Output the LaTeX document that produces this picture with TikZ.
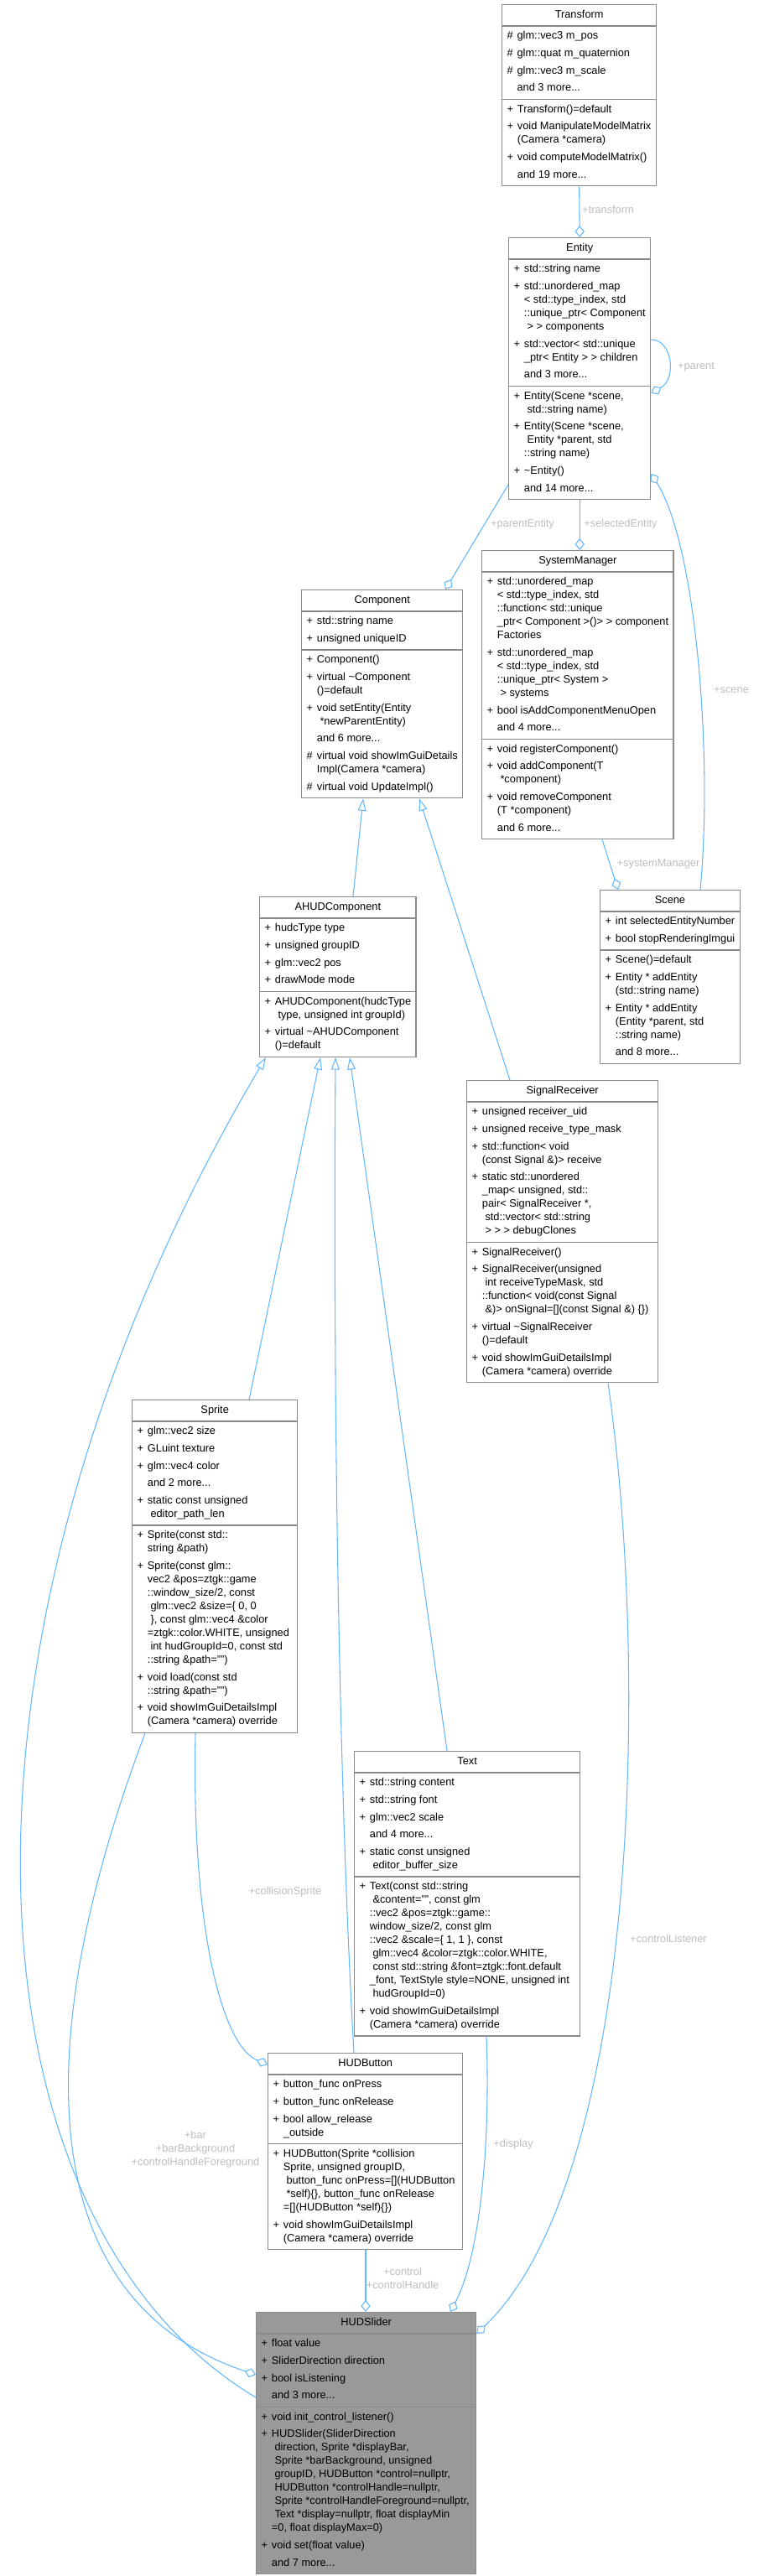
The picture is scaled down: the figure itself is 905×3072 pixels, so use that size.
\documentclass[tikz,border=0pt]{standalone}
\usepackage{fontspec}
\setmainfont{Liberation Sans}
\usetikzlibrary{shapes.multipart,arrows.meta,calc}
\definecolor{edgeblue}{HTML}{63B8FF}
\definecolor{labelgrey}{HTML}{BEBEBE}
\definecolor{framegrey}{HTML}{8A8A8A}
\definecolor{focusgrey}{HTML}{999999}
\newcommand{\memberlist}[1]{\begin{tabular}{@{}l@{\hspace{3.6pt}}l@{}}#1\end{tabular}}
\newcommand{\nextitem}{\\[3.5pt]}

\begin{document}
\begin{tikzpicture}[
    x=0.75pt, y=-0.75pt,
    every node/.style={font=\fontsize{9.6}{12}\selectfont},
    cls/.style={rectangle split, rectangle split parts=3, rectangle split part align={center,left,left}, draw=framegrey, line width=1pt, fill=white, inner xsep=4.5pt, inner ysep=3pt, anchor=north west},
    focus/.style={cls, fill=focusgrey},
    lbl/.style={text=labelgrey, inner sep=0pt, align=center},
    uses/.style={draw=edgeblue, line width=0.8pt, -{Diamond[open,length=10.5pt,width=8.5pt]}},
    inherits/.style={draw=edgeblue, line width=0.8pt, -{Triangle[open,length=11pt,width=7.5pt]}}
]
\path[use as bounding box, fill=white] (0,0) rectangle (905,3072);

% classes
\node[cls, minimum width=138pt] (transform) at (598,5)
    {\strut Transform
    \nodepart{two}\memberlist{\# & glm::vec3 m\_pos\nextitem
        \# & glm::quat m\_quaternion\nextitem
        \# & glm::vec3 m\_scale\nextitem
        & and 3 more...}
    \nodepart{three}\memberlist{+ & Transform()=default\nextitem
        + & void ManipulateModelMatrix\\ & (Camera *camera)\nextitem
        + & void computeModelMatrix()\nextitem
        & and 19 more...}};

\node[cls, minimum width=126.8pt] (entity) at (606,283)
    {\strut Entity
    \nodepart{two}\memberlist{+ & std::string name\nextitem
        + & std::unordered\_map\\ & < std::type\_index, std\\ & ::unique\_ptr< Component\\ & \ > > components\nextitem
        + & std::vector< std::unique\\ & \_ptr< Entity > > children\nextitem
        & and 3 more...}
    \nodepart{three}\memberlist{+ & Entity(Scene *scene,\\ & \ std::string name)\nextitem
        + & Entity(Scene *scene,\\ & \ Entity *parent, std\\ & ::string name)\nextitem
        + & \textasciitilde Entity()\nextitem
        & and 14 more...}};

\node[cls, minimum width=142.5pt] (component) at (359,703)
    {\strut Component
    \nodepart{two}\memberlist{+ & std::string name\nextitem
        + & unsigned uniqueID}
    \nodepart{three}\memberlist{+ & Component()\nextitem
        + & virtual \textasciitilde Component\\ & ()=default\nextitem
        + & void setEntity(Entity\\ & \ *newParentEntity)\nextitem
        & and 6 more...\nextitem
        \# & virtual void showImGuiDetails\\ & Impl(Camera *camera)\nextitem
        \# & virtual void UpdateImpl()}};

\node[cls, minimum width=150pt] (systemmanager) at (574,656)
    {\strut SystemManager
    \nodepart{two}\memberlist{+ & std::unordered\_map\\ & < std::type\_index, std\\ & ::function< std::unique\\ & \_ptr< Component >()> > component\\ & Factories\nextitem
        + & std::unordered\_map\\ & < std::type\_index, std\\ & ::unique\_ptr< System >\\ & \ > systems\nextitem
        + & bool isAddComponentMenuOpen\nextitem
        & and 4 more...}
    \nodepart{three}\memberlist{+ & void registerComponent()\nextitem
        + & void addComponent(T\\ & \ *component)\nextitem
        + & void removeComponent\\ & (T *component)\nextitem
        & and 6 more...}};

\node[cls, minimum width=100pt] (scene) at (715,1061)
    {\strut Scene
    \nodepart{two}\memberlist{+ & int selectedEntityNumber\nextitem
        + & bool stopRenderingImgui}
    \nodepart{three}\memberlist{+ & Scene()=default\nextitem
        + & Entity * addEntity\\ & (std::string name)\nextitem
        + & Entity * addEntity\\ & (Entity *parent, std\\ & ::string name)\nextitem
        & and 8 more...}};

\node[cls, minimum width=139.5pt] (ahud) at (309,1069)
    {\strut AHUDComponent
    \nodepart{two}\memberlist{+ & hudcType type\nextitem
        + & unsigned groupID\nextitem
        + & glm::vec2 pos\nextitem
        + & drawMode mode}
    \nodepart{three}\memberlist{+ & AHUDComponent(hudcType\\ & \ type, unsigned int groupId)\nextitem
        + & virtual \textasciitilde AHUDComponent\\ & ()=default}};

\node[cls, minimum width=171pt] (signalreceiver) at (556,1288)
    {\strut SignalReceiver
    \nodepart{two}\memberlist{+ & unsigned receiver\_uid\nextitem
        + & unsigned receive\_type\_mask\nextitem
        + & std::function< void\\ & (const Signal \&)> receive\nextitem
        + & static std::unordered\\ & \_map< unsigned, std::\\ & pair< SignalReceiver *,\\ & \ std::vector< std::string\\ & \ > > > debugClones}
    \nodepart{three}\memberlist{+ & SignalReceiver()\nextitem
        + & SignalReceiver(unsigned\\ & \ int receiveTypeMask, std\\ & ::function< void(const Signal\\ & \ \&)> onSignal=[](const Signal \&) \{\})\nextitem
        + & virtual \textasciitilde SignalReceiver\\ & ()=default\nextitem
        + & void showImGuiDetailsImpl\\ & (Camera *camera) override}};

\node[cls, minimum width=147.8pt] (sprite) at (157,1669)
    {\strut Sprite
    \nodepart{two}\memberlist{+ & glm::vec2 size\nextitem
        + & GLuint texture\nextitem
        + & glm::vec4 color\nextitem
        & and 2 more...\nextitem
        + & static const unsigned\\ & \ editor\_path\_len}
    \nodepart{three}\memberlist{+ & Sprite(const std::\\ & string \&path)\nextitem
        + & Sprite(const glm::\\ & vec2 \&pos=ztgk::game\\ & ::window\_size/2, const\\ & \ glm::vec2 \&size=\{ 0, 0\\ & \ \}, const glm::vec4 \&color\\ & =ztgk::color.WHITE, unsigned\\ & \ int hudGroupId=0, const std\\ & ::string \&path="")\nextitem
        + & void load(const std\\ & ::string \&path="")\nextitem
        + & void showImGuiDetailsImpl\\ & (Camera *camera) override}};

\node[cls, minimum width=201.8pt] (text) at (422,2088)
    {\strut Text
    \nodepart{two}\memberlist{+ & std::string content\nextitem
        + & std::string font\nextitem
        + & glm::vec2 scale\nextitem
        & and 4 more...\nextitem
        + & static const unsigned\\ & \ editor\_buffer\_size}
    \nodepart{three}\memberlist{+ & Text(const std::string\\ & \ \&content="", const glm\\ & ::vec2 \&pos=ztgk::game::\\ & window\_size/2, const glm\\ & ::vec2 \&scale=\{ 1, 1 \}, const\\ & \ glm::vec4 \&color=ztgk::color.WHITE,\\ & \ const std::string \&font=ztgk::font.default\\ & \_font, TextStyle style=NONE, unsigned int\\ & \ hudGroupId=0)\nextitem
        + & void showImGuiDetailsImpl\\ & (Camera *camera) override}};

\node[cls, minimum width=174pt] (hudbutton) at (319,2448)
    {\strut HUDButton
    \nodepart{two}\memberlist{+ & button\_func onPress\nextitem
        + & button\_func onRelease\nextitem
        + & bool allow\_release\\ & \_outside}
    \nodepart{three}\memberlist{+ & HUDButton(Sprite *collision\\ & Sprite, unsigned groupID,\\ & \ button\_func onPress=[](HUDButton\\ & \ *self)\{\}, button\_func onRelease\\ & =[](HUDButton *self)\{\})\nextitem
        + & void showImGuiDetailsImpl\\ & (Camera *camera) override}};

\node[focus, minimum width=196.5pt] (hudslider) at (305,2757)
    {\strut HUDSlider
    \nodepart{two}\memberlist{+ & float value\nextitem
        + & SliderDirection direction\nextitem
        + & bool isListening\nextitem
        & and 3 more...}
    \nodepart{three}\memberlist{+ & void init\_control\_listener()\nextitem
        + & HUDSlider(SliderDirection\\ & \ direction, Sprite *displayBar,\\ & \ Sprite *barBackground, unsigned\\ & \ groupID, HUDButton *control=nullptr,\\ & \ HUDButton *controlHandle=nullptr,\\ & \ Sprite *controlHandleForeground=nullptr,\\ & \ Text *display=nullptr, float displayMin\\ & =0, float displayMax=0)\nextitem
        + & void set(float value)\nextitem
        & and 7 more...}};

% members (aggregation)
\draw[uses] (transform.south) -- (entity.north);
\draw[uses] ($(entity.north east)+(0,122)$) .. controls ($(entity.north east)+(25,122)$) and ($(entity.north east)+(31,168)$) .. ($(entity.north east)+(0,186)$);
\draw[uses] ($(entity.north west)+(0,295)$) -- ($(component.north west)+(172,0)$);
\draw[uses] (entity.south) -- (entity.south |- systemmanager.north);
\draw[uses] ($(scene.north west)+(120,0)$) .. controls (850,900) and (830,650) .. ($(entity.north east)+(0,282)$);
\draw[uses] ($(systemmanager.south west)+(144,0)$) -- ($(scene.north west)+(22,0)$);
\draw[uses] ($(sprite.south west)+(16,0)$) .. controls (40,2420) and (30,2740) .. ($(hudslider.north west)+(0,75)$);
\draw[uses] ($(sprite.south west)+(76,0)$) .. controls (228,2300) and (265,2440) .. ($(hudbutton.north west)+(0,14)$);
\draw[uses] ($(hudbutton.south west)+(117,0)$) -- ($(hudslider.north west)+(131,0)$);
\draw[uses] ($(text.south west)+(158,0)$) .. controls (585,2560) and (572,2690) .. ($(hudslider.north west)+(232,0)$);
\draw[uses] ($(signalreceiver.south west)+(169,0)$) .. controls (775,2000) and (760,2600) .. ($(hudslider.north east)+(0,26)$);

% inheritance
\draw[inherits] ($(ahud.north west)+(112,0)$) -- ($(component.south west)+(74,0)$);
\draw[inherits] ($(signalreceiver.north west)+(52,0)$) -- ($(component.south west)+(141,0)$);
\draw[inherits] ($(sprite.north west)+(140,0)$) -- ($(ahud.south west)+(73,0)$);
\draw[inherits] ($(text.north west)+(111,0)$) -- ($(ahud.south west)+(108,0)$);
\draw[inherits] ($(hudbutton.north west)+(103,0)$) .. controls (405,2150) and (397,1700) .. ($(ahud.south west)+(91,0)$);
\draw[inherits] ($(hudslider.north west)+(0,102)$) .. controls (-60,2640) and (-80,1930) .. ($(ahud.south west)+(8,0)$);

% edge labels
\node[lbl] (ltransform) at (725,250) {+transform};
\node[lbl] (lparent) at (830,438) {+parent};
\node[lbl] (lparententity) at (623,625) {+parentEntity};
\node[lbl] (lselectedentity) at (740,625) {+selectedEntity};
\node[lbl] (lscene) at (872,823) {+scene};
\node[lbl] (lsystemmanager) at (785,1030) {+systemManager};
\node[lbl] (lcollisionsprite) at (340,2256) {+collisionSprite};
\node[lbl] (lbar) at (233,2563) {+bar\\+barBackground\\+controlHandleForeground};
\node[lbl] (lcontrol) at (480,2717) {+control\\+controlHandle};
\node[lbl] (ldisplay) at (612,2557) {+display};
\node[lbl] (lcontrollistener) at (797,2312) {+controlListener};
\end{tikzpicture}
\end{document}
